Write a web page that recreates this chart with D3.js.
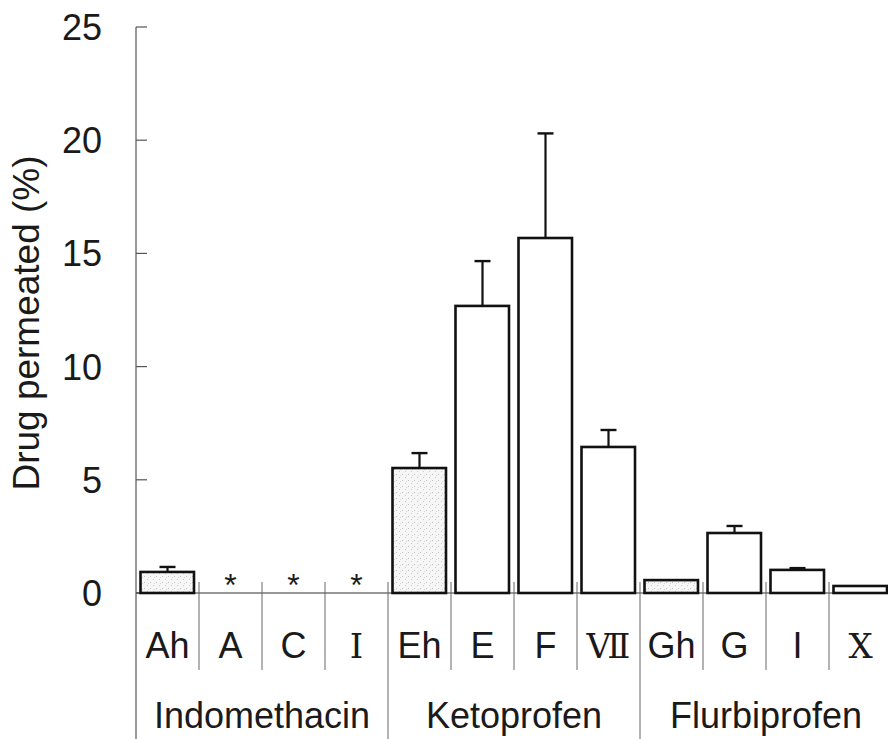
<!DOCTYPE html>
<html>
<head>
<meta charset="utf-8">
<script src="https://cdnjs.cloudflare.com/ajax/libs/d3/7.8.5/d3.min.js"></script>
<style>
  body { margin: 0; background: #fff; }
  text { font-family: "Liberation Sans", Arial, sans-serif; fill: #1a1a1a; }
</style>
</head>
<body>
<script>
var categories = ["Ah", "A", "C", "\u2160", "Eh", "E", "F", "\u2166", "Gh", "G", "I", "\u2169"];
var roman = [false, false, false, true, false, false, false, true, false, false, false, true];
var groups = ["Indomethacin", "Ketoprofen", "Flurbiprofen"];
var groupOf = [0, 0, 0, 0, 1, 1, 1, 1, 2, 2, 2, 2];
var values = [0.93, null, null, null, 5.52, 12.68, 15.68, 6.45, 0.57, 2.65, 1.02, 0.31];
var errors = [0.22, null, null, null, 0.66, 1.98, 4.62, 0.75, 0, 0.31, 0.08, 0];
var shaded = [true, false, false, false, true, false, false, false, true, false, false, false];
var yTicks = [0, 5, 10, 15, 20, 25];

var svg = d3.select("body").append("svg").attr("width", 888).attr("height", 739);

// stipple for the shaded bars
var pat = svg.append("defs").append("pattern")
  .attr("id", "stipple").attr("patternUnits", "userSpaceOnUse")
  .attr("width", 6).attr("height", 6);
pat.append("rect").attr("width", 6).attr("height", 6).attr("fill", "#f6f6f6");
pat.append("rect").attr("x", 0).attr("y", 0).attr("width", 1).attr("height", 1).attr("fill", "#c0c0c0");
pat.append("rect").attr("x", 3).attr("y", 3).attr("width", 1).attr("height", 1).attr("fill", "#cacaca");
pat.append("rect").attr("x", 4).attr("y", 1).attr("width", 1).attr("height", 1).attr("fill", "#d6d6d6");

var x = d3.scaleBand().domain(d3.range(categories.length)).range([136, 892]).padding(0);
var y = d3.scaleLinear().domain([0, 25]).range([593, 27]);

// y axis, ticks pointing inward
svg.append("line")
  .attr("x1", 136).attr("x2", 136).attr("y1", y(25)).attr("y2", 739)
  .attr("stroke", "#555").attr("stroke-width", 1.2);

svg.selectAll("line.ytick")
  .data(yTicks)
  .enter().append("line")
          .attr("class", "ytick")
          .attr("x1", 136).attr("x2", 147)
          .attr("y1", function(d){ return y(d); })
          .attr("y2", function(d){ return y(d); })
          .attr("stroke", "#555").attr("stroke-width", 1.2);

svg.selectAll("text.ylab")
  .data(yTicks)
  .enter().append("text")
          .attr("class", "ylab")
          .attr("x", 102)
          .attr("y", function(d){ return y(d); })
          .attr("dy", "0.36em")
          .attr("text-anchor", "end")
          .attr("font-size", 36)
          .text(function(d){ return d; });

svg.append("text")
  .attr("transform", "translate(39,323) rotate(-90)")
  .attr("text-anchor", "middle")
  .attr("font-size", 37)
  .text("Drug permeated (%)");

// baseline
svg.append("line")
  .attr("x1", 136).attr("x2", 888).attr("y1", y(0)).attr("y2", y(0))
  .attr("stroke", "#333").attr("stroke-width", 1.2);

// separators between categories (short) and groups (long)
svg.selectAll("line.sep")
  .data(d3.range(1, categories.length))
  .enter().append("line")
          .attr("class", "sep")
          .attr("x1", function(i){ return x(i); })
          .attr("x2", function(i){ return x(i); })
          .attr("y1", 582)
          .attr("y2", function(i){ return groupOf[i] !== groupOf[i - 1] ? 739 : 670; })
          .attr("stroke", "#666").attr("stroke-width", 1);

// bars
var bars = d3.range(categories.length).filter(function(i){ return values[i] !== null; });

svg.selectAll("rect.bar")
  .data(bars)
  .enter().append("rect")
          .attr("class", "bar")
          .attr("x", function(i){ return x(i) + 4.5; })
          .attr("width", x.bandwidth() - 9.5)
          .attr("y", function(i){ return y(values[i]); })
          .attr("height", function(i){ return y(0) - y(values[i]); })
          .attr("fill", function(i){ return shaded[i] ? "url(#stipple)" : "#fff"; })
          .attr("stroke", "#111").attr("stroke-width", 2.6);

// error bars
var withErr = bars.filter(function(i){ return errors[i] > 0; });

svg.selectAll("line.err")
  .data(withErr)
  .enter().append("line")
          .attr("class", "err")
          .attr("x1", function(i){ return x(i) + x.bandwidth() / 2; })
          .attr("x2", function(i){ return x(i) + x.bandwidth() / 2; })
          .attr("y1", function(i){ return y(values[i]); })
          .attr("y2", function(i){ return y(values[i] + errors[i]); })
          .attr("stroke", "#111").attr("stroke-width", 2.2);

svg.selectAll("line.cap")
  .data(withErr)
  .enter().append("line")
          .attr("class", "cap")
          .attr("x1", function(i){ return x(i) + x.bandwidth() / 2 - 8; })
          .attr("x2", function(i){ return x(i) + x.bandwidth() / 2 + 8; })
          .attr("y1", function(i){ return y(values[i] + errors[i]); })
          .attr("y2", function(i){ return y(values[i] + errors[i]); })
          .attr("stroke", "#111").attr("stroke-width", 2.4);

// asterisks for not detected
svg.selectAll("text.star")
  .data(d3.range(categories.length).filter(function(i){ return values[i] === null; }))
  .enter().append("text")
          .attr("class", "star")
          .attr("x", function(i){ return x(i) + x.bandwidth() / 2; })
          .attr("y", 596)
          .attr("text-anchor", "middle")
          .attr("font-size", 32)
          .text("*");

// category labels
svg.selectAll("text.cat")
  .data(categories)
  .enter().append("text")
          .attr("class", "cat")
          .attr("x", function(d, i){ return x(i) + x.bandwidth() / 2; })
          .attr("y", 658)
          .attr("text-anchor", "middle")
          .attr("font-size", function(d, i){ return roman[i] ? 34 : 36; })
          .style("font-family", function(d, i){ return roman[i] ? "'DejaVu Serif', serif" : null; })
          .text(function(d){ return d; });

// group labels
svg.selectAll("text.grp")
  .data(groups)
  .enter().append("text")
          .attr("class", "grp")
          .attr("x", function(d, g){
            var idx = d3.range(categories.length).filter(function(i){ return groupOf[i] === g; });
            return (x(idx[0]) + x(idx[idx.length - 1]) + x.bandwidth()) / 2;
          })
          .attr("y", 728)
          .attr("text-anchor", "middle")
          .attr("font-size", 36)
          .text(function(d){ return d; });
</script>
</body>
</html>
